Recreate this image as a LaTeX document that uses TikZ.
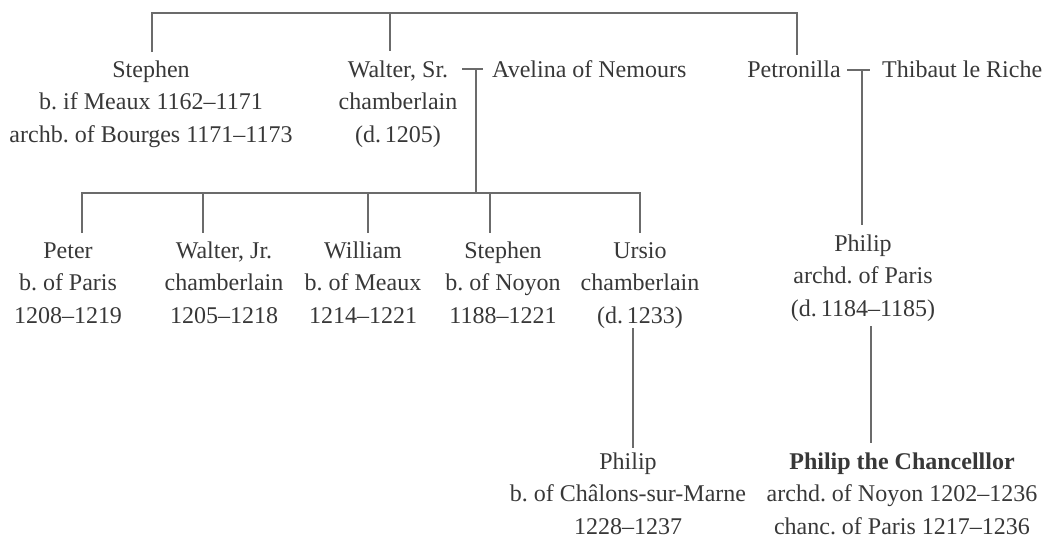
\documentclass[tikz,border=0pt]{standalone}
\usepackage{fontspec}
\setmainfont{Liberation Serif}
\frenchspacing
\begin{document}
\begin{tikzpicture}[x=1pt,y=-1pt,
  person/.style={align=center, font=\fontsize{24}{32.5}\selectfont\frenchspacing, text=black!78, inner sep=0pt, anchor=base},
  line/.style={draw=black!58, line width=2.8pt}]
\useasboundingbox (0,0) rectangle (1047,539);
% generation 1 (base = baseline of last line)
\node[person] (stephen) at (151,142) {Stephen\\b. if Meaux 1162--1171\\archb. of Bourges 1171--1173};
\node[person] (waltersr) at (398,142) {Walter, Sr.\\chamberlain\\(d.\,1205)};
\node[person, anchor=base west] (avelina) at (492,77) {Avelina of Nemours};
\node[person] (petronilla) at (794,77) {Petronilla};
\node[person, anchor=base west] (thibaut) at (882,77) {Thibaut le Riche};
% generation 2
\node[person] (peter) at (68,323) {Peter\\b. of Paris\\1208--1219};
\node[person] (walterjr) at (224,323) {Walter, Jr.\\chamberlain\\1205--1218};
\node[person] (william) at (363,323) {William\\b. of Meaux\\1214--1221};
\node[person] (stephenb) at (503,323) {Stephen\\b. of Noyon\\1188--1221};
\node[person] (ursio) at (640,323) {Ursio\\chamberlain\\(d.\,1233)};
\node[person] (philipa) at (863,316) {Philip\\archd. of Paris\\(d.\,1184--1185)};
% generation 3
\node[person] (philipb) at (628,534) {Philip\\b. of Châlons-sur-Marne\\1228--1237};
\node[person] (chancellor) at (902,534) {\textbf{Philip the Chancelllor}\\archd. of Noyon 1202--1236\\chanc. of Paris 1217--1236};
% connector points
\coordinate (t1) at (152,13); \coordinate (t1b) at (152,52);
\coordinate (t2) at (390,13); \coordinate (t2b) at (390,51);
\coordinate (t3) at (797,13); \coordinate (t3b) at (797,55);
\coordinate (m1a) at (462,69); \coordinate (m1b) at (483,69);
\coordinate (m1) at (476,69); \coordinate (m1d) at (476,193);
\coordinate (c1) at (82,193); \coordinate (c1b) at (82,233);
\coordinate (c2) at (203,193); \coordinate (c2b) at (203,233);
\coordinate (c3) at (368,193); \coordinate (c3b) at (368,233);
\coordinate (c4) at (490,193); \coordinate (c4b) at (490,233);
\coordinate (c5) at (640,193); \coordinate (c5b) at (640,233);
\coordinate (m2a) at (847,70); \coordinate (m2b) at (870,70);
\coordinate (m2) at (862,70); \coordinate (m2d) at (862,225);
\coordinate (u1) at (633,328); \coordinate (u1b) at (633,448);
\coordinate (p1) at (871,326); \coordinate (p1b) at (871,443);
% connectors
\draw[line] (t1b) -- (t1) -- (t3) -- (t3b);
\draw[line] (t2) -- (t2b);
\draw[line] (m1a) -- (m1b);
\draw[line] (m1) -- (m1d);
\draw[line] (c1b) -- (c1) -- (c5) -- (c5b);
\draw[line] (c2) -- (c2b);
\draw[line] (c3) -- (c3b);
\draw[line] (c4) -- (c4b);
\draw[line] (m2a) -- (m2b);
\draw[line] (m2) -- (m2d);
\draw[line] (u1) -- (u1b);
\draw[line] (p1) -- (p1b);
\end{tikzpicture}
\end{document}
